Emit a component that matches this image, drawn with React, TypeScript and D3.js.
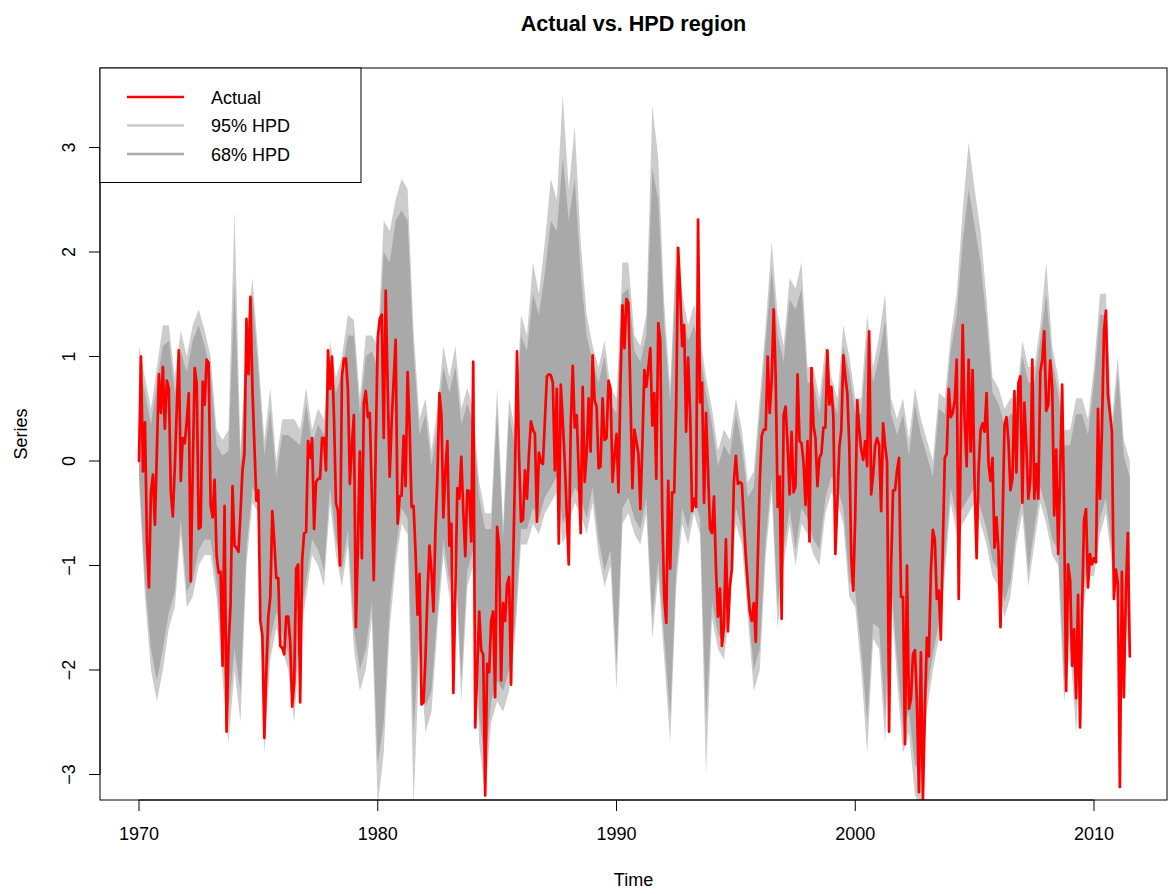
import React from "react";
import * as d3 from "d3";

// ---- data ----
const START_YEAR = 1970;
const MONTHLY = 12;
const QUARTERLY = 4;

// Actual series, monthly from Jan 1970
const actual: number[] = [
  0.0, 1.0, -0.1, 0.37, -0.78, -1.21, -0.3, -0.13, -0.61, 0.1, 0.83, 0.46,
  0.9, 0.31, 0.77, 0.69, -0.3, -0.53, -0.06, 0.5, 1.06, -0.19, 0.22, 0.17,
  0.38, 0.65, -1.15, -0.1, 0.89, 0.74, -0.65, -0.63, 0.76, 0.54, 0.97, 0.94,
  -0.42, -0.54, -0.18, -0.9, -1.07, -1.06, -1.96, -0.43, -2.59, -1.77, -1.38, -0.24,
  -0.81, -0.83, -0.87, -0.5, -0.09, 0.07, 1.36, 0.83, 1.57, 0.69, 0.15, -0.38,
  -0.28, -1.53, -1.67, -2.65, -2.0, -1.49, -1.3, -0.48, -0.77, -1.12, -1.12, -1.77,
  -1.79, -1.85, -1.49, -1.49, -1.73, -2.35, -2.12, -1.03, -0.99, -2.31, -0.95, -0.69,
  -0.68, 0.19, 0.03, 0.22, -0.65, -0.2, -0.17, -0.17, 0.22, 0.22, -0.09, 1.06,
  0.69, 1.0, 0.42, -0.4, -0.48,
  -1.0, 0.81, 0.98, 0.98, 0.69, -0.22, 0.15, 0.44, -1.59, -0.83, 0.09, -0.93,
  0.55, 0.67, 0.42, 0.46, -0.32, -1.14, 0.15, 1.18, 1.36, 1.4, 0.22, 1.63,
  0.69, -0.15, 0.38, 0.77, 1.16, -0.6, -0.34, -0.33, 0.24, -0.24, 0.85, 0.34,
  -0.44, -0.43, -0.87, -1.47, -1.08, -2.33, -2.31, -1.88, -1.26, -0.81, -1.06, -1.44,
  -0.65, -0.15, 0.65, 0.44, -0.54,
  -0.09, 0.19, -0.81, -0.6, -2.22, -1.26, -0.26, -0.36, 0.04, -0.48, -0.91, -0.28,
  -0.29, -0.77, 0.95, -2.55, -2.0, -1.44, -1.81, -1.85, -3.2, -1.94, -2.02, -1.53,
  -1.44, -2.26, -0.63, -0.81, -2.1, -1.36, -1.53, -1.18, -1.11, -2.14, -1.03, -0.09,
  1.05, 0.07, -0.58, -0.56, -0.09, -0.36, 0.07, 0.38, 0.3, 0.26, -0.58, 0.08,
  -0.01, -0.03, 0.38, 0.81, 0.83,
  0.82, 0.75, -0.09, 0.69, -0.79, 0.73, 0.38, -0.01, -0.5, -0.99, 0.34, 0.91,
  0.32, 0.44, -0.09, -0.69, 0.71, -0.2, 0.07, 0.6, 0.09, 1.01, 0.58, 0.52,
  -0.07, -0.05, 0.6, 0.2, 0.22, 0.77, 0.69, -0.2, 0.05, 0.26, -0.3, 0.75,
  1.49, 1.08, 1.55, 1.51, 0.63, -0.26, 0.3, 0.19, 0.07, -0.46, 0.15, 0.87,
  0.71, 0.89, 1.08, 0.34, 0.65,
  -0.17, 1.32, 1.16, -0.52, -1.3, -1.55, -0.19, -1.03, -0.3, -0.3, 0.54, 2.04,
  1.63, 1.1, 1.3, 0.28, 0.99, 0.46, -0.48, -0.36, -0.44, 2.31, 0.56, 0.75,
  -0.4, 0.46, -0.09, -0.65, -0.69, -0.34, -1.03, -1.49, -1.22, -1.77, -1.57, -0.75,
  -1.63, -1.2, -1.03, -0.2, 0.05, -0.22, -0.2, -0.22, -0.56, -0.91, -1.18, -1.44,
  -1.53, -1.36, -1.73, -0.95, -0.2,
  0.24, 0.3, 0.3, 1.0, 0.46, 0.77, 1.45, 0.81, -0.44, -0.15, -1.51, 0.44,
  0.52, 0.15, -0.32, 0.28, -0.3, -0.24, 0.83, 0.19, 0.17, -0.01, -0.42, 0.19,
  -0.77, 0.89, 0.34, 0.22, -0.24, 0.03, 0.07, 0.32, 0.32, 1.06, 0.54, 0.71,
  0.42, -0.89, -0.4, 0.13, 0.3, 1.01, 0.81, 0.65, 0.15, -0.93, -1.24, -0.52,
  0.58, 0.3, 0.11, 0.01, 0.19,
  -0.05, 1.24, -0.32, -0.13, 0.15, 0.22, 0.15, -0.48, 0.36, 0.15, -0.01, -2.59,
  -1.03, -0.28, -0.28, -0.09, 0.03, -1.3, -1.3, -2.71, -1.0, -2.37, -2.28, -1.85,
  -1.81, -2.31, -3.17, -1.83, -3.24, -2.39, -1.69, -1.87, -1.06, -0.66, -0.75, -1.32,
  -1.24, -1.71, -0.83, 0.03, 0.07, 0.69, 0.42, 0.46, 0.58, 0.97, -1.32, 0.15,
  1.3, 0.38, -0.05, 0.97,
  0.09, 0.87, -0.24, -0.93, -0.09, 0.3, 0.36, 0.28, 0.65, -0.03, -0.19, 0.03,
  -0.83, -0.54, -0.87, -1.59, -0.63, 0.34, 0.42, 0.19, -0.28, -0.17, 0.67, -0.11,
  0.75, 0.81, -0.4, 0.56, 0.15, -0.36, -0.17, 0.97, -0.36, -0.03, -0.36, 0.85,
  0.97, 1.24, 0.48, 0.54, 0.96, 0.71, -0.52, 0.11, -0.89, -0.13, 0.73, -0.52,
  -2.2, -0.99, -1.14, -1.96, -1.61, -2.27, -1.28,
  -2.55, -1.42, -0.56, -0.46, -1.21, -0.89, -0.99, -0.93, -0.97, 0.5, -0.36, 0.3,
  1.24, 1.44, 0.63, 0.46, 0.28, -1.32, -1.04, -1.18, -3.12, -1.06, -2.26, -1.26,
  -0.69, -1.87,
];

// HPD bands, quarterly from 1970.00
const hi95: number[] = [
  1.1, 0.8, 0.5, 0.9, 1.3, 1.3, 0.8, 1.25, 1.0, 1.3, 1.45, 1.25,
  1.0, 0.3, 0.2, 0.3, 2.4, 0.1, 1.2, 1.75, 1.0, 0.2, 0.7, 0.0,
  0.4, 0.4, 0.4, 0.3, 0.7, 0.3, 0.5, 0.4, 1.15, 0.8, 1.0, 1.4,
  1.35, 0.6, 1.2, 1.2, 1.1, 2.3, 2.2, 2.5, 2.7, 2.6, 1.25, 0.4,
  0.6, 0.1, 0.5, 1.1, 0.8, 1.1, 0.5, 0.7, 0.5, -0.2, -0.5, -0.5,
  0.7, -0.6, 0.6, 0.3, 1.4, 1.2, 1.9, 1.6, 2.1, 2.7, 2.5, 3.5,
  2.6, 3.2, 2.1, 1.4, 1.1, 0.9, 1.15, 0.7, 0.6, 1.9, 1.9, 1.2,
  1.1, 1.4, 3.4, 2.9, 1.5, 0.7, 2.1, 1.6, 1.3, 1.5, 1.2, 0.8,
  0.5, 0.1, 0.3, 0.2, 0.6, 0.3, -0.2, -0.1, 0.6, 1.3, 2.1, 1.4,
  1.1, 1.75, 1.65, 1.9, 0.9, 0.9, 0.6, 1.1, 0.8, 0.6, 1.3, 1.0,
  0.6, 0.6, 1.4, 0.9, 1.2, 1.6, 0.6, 0.4, 0.6, 0.2, 0.7, 0.4,
  0.2, 0.0, 0.65, 0.6, 1.2, 1.6, 2.4, 3.05, 2.6, 2.2, 1.55, 0.8,
  0.7, 0.5, 0.6, 0.6, 1.15, 0.9, 0.9, 1.3, 1.9, 1.1, 0.8, 0.3,
  0.3, 0.6, 0.6, 0.4, 0.9, 1.6, 1.6, 0.4, 1.0, 0.2, 0.0,
];
const lo95: number[] = [
  -0.2, -1.3, -2.0, -2.3, -2.0, -1.6, -1.4, -0.7, -1.4, -1.3, -1.0, -0.9,
  -0.9, -1.3, -2.1, -2.7, -2.0, -2.5, -1.0, -0.4, -0.5, -2.8, -1.9, -1.6,
  -1.8, -2.0, -2.5, -1.7, -1.3, -0.9, -1.0, -1.2, -0.4, -0.9, -1.2, -0.8,
  -1.8, -2.2, -2.0, -1.5, -3.3, -2.8, -1.6, -1.0, -0.6, -0.7, -3.3, -1.8,
  -2.6, -2.4, -1.6, -0.9, -1.3, -1.0, -2.3, -1.2, -1.0, -2.7, -3.2, -2.5,
  -2.3, -2.4, -2.2, -1.7, -0.8, -0.8, -0.6, -0.7, -0.5, -0.4, -0.3, -0.8,
  -0.6, -0.4, -0.5, -0.7, -0.4, -0.9, -1.2, -1.0, -2.2, -0.6, -0.5, -0.7,
  -0.8, -0.5, -1.7, -1.1, -1.9, -2.7, -1.2, -0.6, -0.8, -0.5, -0.7, -3.0,
  -1.5, -1.8, -1.9, -1.4, -0.6, -0.8, -1.5, -2.2, -2.0, -0.9, -0.3, -1.6,
  -1.0, -0.6, -1.0, -0.6, -0.7, -0.9, -1.0, -0.5, -0.3, -0.4, -0.6, -1.3,
  -1.4, -2.0, -2.8, -1.7, -1.8, -2.7, -1.3, -2.1, -2.8, -2.6, -3.2, -3.3,
  -2.4, -2.0, -1.7, -1.1, -0.4, -0.7, -0.6, -0.5, -0.4, -0.6, -0.8, -1.1,
  -1.2, -1.5, -1.3, -0.8, -0.5, -1.2, -0.8, -0.4, -0.6, -0.9, -1.0, -2.3,
  -1.8, -2.6, -1.5, -1.1, -1.1, -0.7, -0.5, -1.0, -1.4, -1.4, -1.9,
];
const hi68: number[] = [
  0.95, 0.65, 0.35, 0.75, 1.1, 1.15, 0.65, 1.05, 0.85, 1.15, 1.3, 1.1,
  0.85, 0.15, 0.05, 0.1, 1.7, -0.05, 1.05, 1.6, 0.85, 0.05, 0.5, -0.15,
  0.25, 0.25, 0.2, 0.15, 0.55, 0.15, 0.35, 0.25, 1.0, 0.65, 0.85, 1.2,
  1.2, 0.45, 1.0, 1.05, 0.9, 2.0, 1.9, 2.3, 2.4, 2.3, 1.05, 0.25,
  0.45, -0.05, 0.35, 0.9, 0.65, 0.9, 0.35, 0.55, 0.35, -0.35, -0.65, -0.65,
  0.5, -0.75, 0.45, 0.15, 1.2, 1.05, 1.6, 1.4, 1.8, 2.3, 2.2, 2.9,
  2.3, 2.7, 1.8, 1.2, 0.95, 0.75, 1.0, 0.55, 0.45, 1.6, 1.65, 1.05,
  0.95, 1.2, 2.8, 2.5, 1.3, 0.55, 1.9, 1.4, 1.15, 1.3, 1.05, 0.65,
  0.35, -0.05, 0.15, 0.05, 0.45, 0.15, -0.35, -0.25, 0.45, 1.15, 1.85, 1.2,
  0.95, 1.55, 1.45, 1.65, 0.75, 0.75, 0.45, 0.95, 0.65, 0.45, 1.1, 0.85,
  0.45, 0.45, 1.2, 0.75, 1.0, 1.35, 0.45, 0.25, 0.45, 0.05, 0.55, 0.25,
  0.05, -0.15, 0.5, 0.45, 1.05, 1.4, 2.1, 2.6, 2.25, 1.9, 1.35, 0.65,
  0.55, 0.35, 0.45, 0.45, 1.0, 0.75, 0.75, 1.15, 1.6, 0.95, 0.65, 0.15,
  0.15, 0.45, 0.45, 0.25, 0.75, 1.4, 1.4, 0.25, 0.85, 0.05, -0.15,
];
const lo68: number[] = [
  -0.1, -1.15, -1.8, -2.1, -1.8, -1.45, -1.25, -0.55, -1.25, -1.15, -0.85, -0.75,
  -0.75, -1.15, -1.9, -2.4, -1.8, -2.2, -0.85, -0.25, -0.35, -2.55, -1.7, -1.45,
  -1.65, -1.85, -2.3, -1.55, -1.15, -0.75, -0.85, -1.05, -0.25, -0.75, -1.05, -0.65,
  -1.6, -2.0, -1.8, -1.35, -2.9, -2.5, -1.4, -0.85, -0.45, -0.55, -2.6, -1.6,
  -2.35, -2.2, -1.45, -0.75, -1.15, -0.85, -2.1, -1.05, -0.85, -2.45, -2.9, -2.3,
  -2.1, -2.2, -2.0, -1.55, -0.65, -0.65, -0.45, -0.55, -0.35, -0.25, -0.15, -0.6,
  -0.45, -0.25, -0.35, -0.55, -0.25, -0.75, -1.05, -0.85, -1.95, -0.45, -0.35, -0.55,
  -0.65, -0.35, -1.5, -0.95, -1.7, -2.45, -1.05, -0.45, -0.65, -0.35, -0.55, -2.5,
  -1.35, -1.65, -1.75, -1.25, -0.45, -0.65, -1.35, -2.0, -1.8, -0.75, -0.15, -1.4,
  -0.85, -0.45, -0.85, -0.45, -0.55, -0.75, -0.85, -0.35, -0.15, -0.25, -0.45, -1.15,
  -1.25, -1.8, -2.5, -1.55, -1.6, -2.45, -1.15, -1.9, -2.55, -2.4, -2.9, -3.0,
  -2.2, -1.85, -1.55, -0.95, -0.25, -0.55, -0.45, -0.35, -0.25, -0.45, -0.65, -0.95,
  -1.05, -1.35, -1.15, -0.65, -0.35, -1.05, -0.65, -0.25, -0.45, -0.75, -0.85, -2.1,
  -1.6, -2.35, -1.35, -0.95, -0.95, -0.55, -0.35, -0.85, -1.25, -1.25, -1.7,
];

const xTicks = [1970, 1980, 1990, 2000, 2010];
const yTicks = [-3, -2, -1, 0, 1, 2, 3];

const TITLE = "Actual vs. HPD region";
const X_LABEL = "Time";
const Y_LABEL = "Series";
const LEGEND_LABELS = ["Actual", "95% HPD", "68% HPD"];

// ---- styles ----
const COL_ACTUAL = "#FF0000";
const COL_95 = "#CCCCCC";
const COL_68 = "#A9A9A9";
const FONT = "'Liberation Sans', Arial, Helvetica, sans-serif";

const W = 1169;
const H = 894;
const PLOT = { left: 100, right: 1167, top: 68, bottom: 800 };

export default function App() {
  const x = d3.scaleLinear().domain([1970, 2010]).range([139, 1094]);
  const y = d3.scaleLinear().domain([-3, 3]).range([774.5, 147.5]);

  const actualPts = actual.map((v, i) => ({ t: START_YEAR + i / MONTHLY, v }));
  const bandPts = hi95.map((h, i) => ({
    t: START_YEAR + i / QUARTERLY,
    hi95: h,
    lo95: lo95[i],
    hi68: hi68[i],
    lo68: lo68[i],
  }));

  type B = (typeof bandPts)[number];
  const area95 = d3
    .area<B>()
    .x((d) => x(d.t))
    .y0((d) => y(d.lo95))
    .y1((d) => y(d.hi95));
  const area68 = d3
    .area<B>()
    .x((d) => x(d.t))
    .y0((d) => y(d.lo68))
    .y1((d) => y(d.hi68));
  const line = d3
    .line<{ t: number; v: number }>()
    .x((d) => x(d.t))
    .y((d) => y(d.v));

  const fs = 18;
  const legendColors = [COL_ACTUAL, COL_95, COL_68];
  const legendY = [97, 125.5, 154];

  return (
    <svg
      width={W}
      height={H}
      style={{ position: "absolute", left: 0, top: 0, background: "#fff" }}
      fontFamily={FONT}
    >
      <defs>
        <clipPath id="plotclip">
          <rect
            x={PLOT.left}
            y={PLOT.top}
            width={PLOT.right - PLOT.left}
            height={PLOT.bottom - PLOT.top}
          />
        </clipPath>
      </defs>
      <rect x={0} y={0} width={W} height={H} fill="#fff" />

      <g clipPath="url(#plotclip)">
        <path d={area95(bandPts) || ""} fill={COL_95} stroke="none" />
        <path d={area68(bandPts) || ""} fill={COL_68} stroke="none" />
        <path
          d={line(actualPts) || ""}
          fill="none"
          stroke={COL_ACTUAL}
          strokeWidth={2.7}
          strokeLinejoin="round"
          strokeLinecap="round"
        />
      </g>

      {/* frame */}
      <rect
        x={PLOT.left}
        y={PLOT.top}
        width={PLOT.right - PLOT.left}
        height={PLOT.bottom - PLOT.top}
        fill="none"
        stroke="#000"
        strokeWidth={1}
      />

      {/* x axis */}
      <line
        x1={x(xTicks[0])}
        x2={x(xTicks[xTicks.length - 1])}
        y1={PLOT.bottom}
        y2={PLOT.bottom}
        stroke="#000"
      />
      {xTicks.map((t) => (
        <g key={t}>
          <line x1={x(t)} x2={x(t)} y1={PLOT.bottom} y2={PLOT.bottom + 11} stroke="#000" />
          <text x={x(t)} y={840} fontSize={fs} textAnchor="middle" fill="#000">
            {String(t)}
          </text>
        </g>
      ))}

      {/* y axis */}
      <line x1={PLOT.left} x2={PLOT.left} y1={y(-3)} y2={y(3)} stroke="#000" />
      {yTicks.map((v) => (
        <g key={v}>
          <line x1={PLOT.left - 11} x2={PLOT.left} y1={y(v)} y2={y(v)} stroke="#000" />
          <text
            transform={`translate(74.5, ${y(v)}) rotate(-90)`}
            fontSize={fs}
            textAnchor="middle"
            fill="#000"
          >
            {v < 0 ? "\u2212" + Math.abs(v) : String(v)}
          </text>
        </g>
      ))}

      {/* labels */}
      <text x={633.5} y={31} fontSize={21.6} fontWeight="bold" textAnchor="middle" fill="#000">
        {TITLE}
      </text>
      <text x={633.5} y={886} fontSize={fs} textAnchor="middle" fill="#000">
        {X_LABEL}
      </text>
      <text
        transform={`translate(27, ${(PLOT.top + PLOT.bottom) / 2}) rotate(-90)`}
        fontSize={fs}
        textAnchor="middle"
        fill="#000"
      >
        {Y_LABEL}
      </text>

      {/* legend */}
      <rect x={100} y={68} width={261} height={114.5} fill="#fff" stroke="#000" strokeWidth={1} />
      {LEGEND_LABELS.map((lab, i) => (
        <g key={lab}>
          <line
            x1={127}
            x2={184}
            y1={legendY[i]}
            y2={legendY[i]}
            stroke={legendColors[i]}
            strokeWidth={2.7}
          />
          <text x={211} y={legendY[i] + 6.5} fontSize={fs} fill="#000">
            {lab}
          </text>
        </g>
      ))}
    </svg>
  );
}
